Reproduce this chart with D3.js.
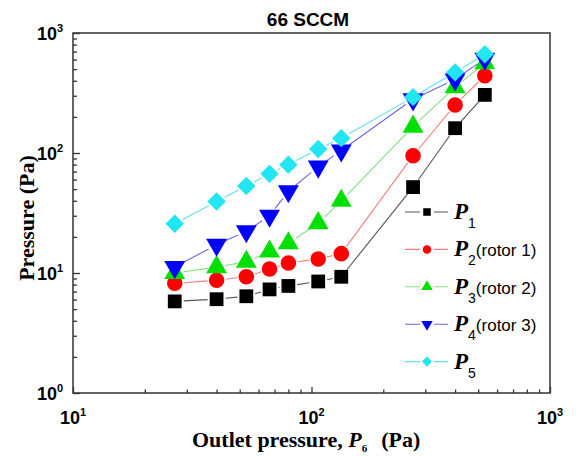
<!DOCTYPE html>
<html>
<head>
<meta charset="utf-8">
<script src="https://cdn.jsdelivr.net/npm/d3@7"></script>
<style>
  body { margin: 0; background: #fff; }
</style>
</head>
<body>
<div id="container"></div>
<script>
// Outlet pressure P6 (Pa)
const outlet = [26.7, 40, 53.3, 66.7, 80, 106.7, 133.3, 266.6, 400, 533];

const p1 = [5.8, 6.05, 6.4, 7.3, 7.8, 8.5, 9.3, 52, 161, 305];
const p2 = [8.2, 8.7, 9.3, 10.8, 12.1, 13.1, 14.5, 95, 251, 441];
const p3 = [10.0, 11.2, 12.4, 15.1, 17.7, 26, 40, 166, 353, 560];
const p4 = [11.2, 17.2, 22.3, 30, 48, 77, 105, 280, 410, 610];
const p5 = [25.7, 39.5, 53, 67, 80, 108, 133, 292, 470, 665];

const seriesNames = ['1', '2', '3', '4', '5'];
const seriesNotes = ['', '(rotor 1)', '(rotor 2)', '(rotor 3)', ''];

const width = 576, height = 456;
const margin = { left: 73, right: 26, top: 33, bottom: 63 };

const svg = d3.select('#container').append('svg')
    .attr('width', width)
    .attr('height', height);

const x = d3.scaleLog().domain([10, 1000]).range([margin.left, width - margin.right]);
const y = d3.scaleLog().domain([1, 1000]).range([height - margin.bottom, margin.top]);

// tick values: majors and minors
const xTicks = [];
for (let e = 1; e < 3; e++) for (let m = 1; m < 10; m++) xTicks.push(m * Math.pow(10, e));
xTicks.push(1000);
const yTicks = [];
for (let e = 0; e < 3; e++) for (let m = 1; m < 10; m++) yTicks.push(m * Math.pow(10, e));
yTicks.push(1000);
const isMajor = v => Math.abs(Math.log10(v) - Math.round(Math.log10(v))) < 1e-9;

// frame
svg.append('rect')
    .attr('x', x.range()[0]).attr('y', y.range()[1])
    .attr('width', x.range()[1] - x.range()[0])
    .attr('height', y.range()[0] - y.range()[1])
    .attr('fill', 'none').attr('stroke', '#333').attr('stroke-width', 1.5);

// bottom axis
const gx = svg.append('g')
    .attr('transform', `translate(0,${y.range()[0]})`)
    .call(d3.axisBottom(x).tickValues(xTicks).tickFormat(() => '').tickSizeOuter(0));
gx.select('.domain').remove();
gx.selectAll('.tick line')
    .attr('stroke', '#333').attr('stroke-width', 1.3)
    .attr('y2', d => isMajor(d) ? -6 : -3.5);

// left axis
const gy = svg.append('g')
    .attr('transform', `translate(${x.range()[0]},0)`)
    .call(d3.axisLeft(y).tickValues(yTicks).tickFormat(() => '').tickSizeOuter(0));
gy.select('.domain').remove();
gy.selectAll('.tick line')
    .attr('stroke', '#333').attr('stroke-width', 1.3)
    .attr('x2', d => isMajor(d) ? 7 : 4);

// tick labels with superscripts
function powLabel(g, v) {
  const t = g.append('text')
      .attr('font-family', 'Liberation Sans, Arial, sans-serif')
      .attr('font-weight', 'bold')
      .attr('fill', '#000');
  t.append('tspan').attr('font-size', 18).text('10');
  t.append('tspan').attr('font-size', 11).attr('dy', -8).text(Math.round(Math.log10(v)));
  return t;
}
xTicks.filter(isMajor).forEach(v => {
  powLabel(svg, v).attr('x', x(v) - 13).attr('y', y.range()[0] + 31);
});
yTicks.filter(isMajor).forEach(v => {
  powLabel(svg, v).attr('x', 37).attr('y', y(v) + 7);
});

// title
svg.append('text')
    .attr('x', 308).attr('y', 26)
    .attr('text-anchor', 'middle')
    .attr('font-family', 'Liberation Sans, Arial, sans-serif')
    .attr('font-weight', 'bold').attr('font-size', 19)
    .text('66 SCCM');

// axis titles
const xl = svg.append('text')
    .attr('x', 192).attr('y', 447)
    .attr('font-family', 'Liberation Serif, Times New Roman, serif')
    .attr('font-weight', 'bold').attr('font-size', 22);
xl.append('tspan').text('Outlet pressure, ');
xl.append('tspan').attr('font-style', 'italic').text('P');
xl.append('tspan').attr('font-size', 11).attr('dy', 5).text('6');
xl.append('tspan').attr('dy', -5).attr('dx', 14).text('(Pa)');

svg.append('text')
    .attr('transform', 'translate(34,218) rotate(-90)')
    .attr('text-anchor', 'middle')
    .attr('font-family', 'Liberation Serif, Times New Roman, serif')
    .attr('font-weight', 'bold').attr('font-size', 22)
    .text('Pressure (Pa)');

// series
const series = [
  { values: p1, line: '#555555', fill: '#000000', shape: d3.symbolSquare, size: 190 },
  { values: p2, line: '#f08080', fill: '#ff0000', shape: d3.symbolCircle, size: 190 },
  { values: p3, line: '#80e080', fill: '#00e000', shape: d3.symbolTriangle, size: 190 },
  { values: p4, line: '#6a6ad8', fill: '#0000ff', shape: d3.symbolTriangle, size: 190, rot: 180 },
  { values: p5, line: '#66e0e8', fill: '#22e5f2', shape: d3.symbolSquare, size: 170, rot: 45 }
];

const gap = 9;
series.forEach(s => {
  const pts = outlet.map((o, i) => [x(o), y(s.values[i])]);
  const g = svg.append('g');
  for (let i = 0; i < pts.length - 1; i++) {
    const [x0, y0] = pts[i], [x1, y1] = pts[i + 1];
    const len = Math.hypot(x1 - x0, y1 - y0);
    if (len <= 2 * gap) continue;
    const ux = (x1 - x0) / len, uy = (y1 - y0) / len;
    g.append('line')
        .attr('x1', x0 + ux * gap).attr('y1', y0 + uy * gap)
        .attr('x2', x1 - ux * gap).attr('y2', y1 - uy * gap)
        .attr('stroke', s.line).attr('stroke-width', 1.1);
  }
  g.selectAll('path')
      .data(pts)
      .enter().append('path')
      .attr('d', d3.symbol().type(s.shape).size(s.size))
      .attr('transform', d => `translate(${d[0]},${d[1]})` + (s.rot ? ` rotate(${s.rot})` : ''))
      .attr('fill', s.fill);
});

// legend
const legend = svg.append('g');
series.forEach((s, i) => {
  const ly = 212 + i * 37.4;
  legend.append('line')
      .attr('x1', 405).attr('x2', 448).attr('y1', ly).attr('y2', ly)
      .attr('stroke', s.line).attr('stroke-width', 1.1);
  legend.append('rect')
      .attr('x', 420).attr('y', ly - 5).attr('width', 14).attr('height', 10)
      .attr('fill', '#fff');
  legend.append('path')
      .attr('d', d3.symbol().type(s.shape).size(s.size * 0.3))
      .attr('transform', `translate(427,${ly})` + (s.rot ? ` rotate(${s.rot})` : ''))
      .attr('fill', s.fill);
  const t = legend.append('text')
      .attr('x', 454).attr('y', ly + 7);
  t.append('tspan')
      .attr('font-family', 'Liberation Serif, Times New Roman, serif')
      .attr('font-weight', 'bold').attr('font-style', 'italic').attr('font-size', 23)
      .text('P');
  t.append('tspan')
      .attr('font-family', 'Liberation Sans, Arial, sans-serif')
      .attr('font-size', 14).attr('dy', 9)
      .text(seriesNames[i]);
  if (seriesNotes[i]) {
    t.append('tspan')
        .attr('font-family', 'Liberation Sans, Arial, sans-serif')
        .attr('font-size', 17).attr('dy', -9)
        .text(seriesNotes[i]);
  }
});
</script>
</body>
</html>
